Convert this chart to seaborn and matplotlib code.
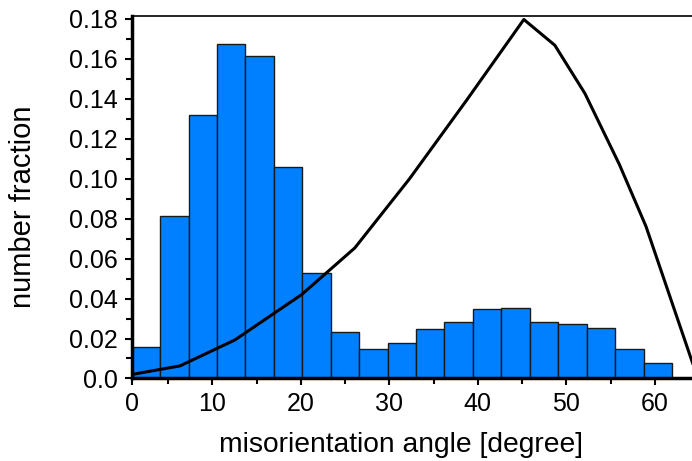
import numpy as np
import pandas as pd
import matplotlib
matplotlib.use("Agg")
import matplotlib.pyplot as plt
from matplotlib.ticker import FixedLocator, FixedFormatter, MultipleLocator
import seaborn as sns

# ---- data ----
bin_start = 0.89
bin_width = 3.213
bar_values = [0.0158, 0.0814, 0.1318, 0.1671, 0.1612, 0.1060, 0.0529, 0.0232,
              0.0146, 0.0176, 0.0246, 0.0281, 0.0346, 0.0351, 0.0281, 0.0274,
              0.0254, 0.0148, 0.0076]
line_x = [0.9, 6.35, 12.56, 20.1, 26.1, 32.3, 38.7, 45.2, 48.7, 52.1, 56.0, 59.0, 64.4]
line_y = [0.002, 0.0063, 0.0193, 0.042, 0.0653, 0.100, 0.139, 0.1796, 0.1667,
          0.1426, 0.107, 0.0761, 0.006]
xtick_vals = [10, 20, 30, 40, 50, 60]
xtick_labels = ["0", "10", "20", "30", "40", "50", "60"]
ytick_vals = [0.0, 0.02, 0.04, 0.06, 0.08, 0.10, 0.12, 0.14, 0.16, 0.18]
ytick_labels = ["0.0", "0.02", "0.04", "0.06", "0.08", "0.10", "0.12", "0.14", "0.16", "0.18"]

sns.set_style("ticks")
plt.rcParams['font.family'] = ['Liberation Sans', 'DejaVu Sans']
plt.rcParams['text.color'] = 'black'
plt.rcParams['axes.labelcolor'] = 'black'
plt.rcParams['xtick.color'] = 'black'
plt.rcParams['ytick.color'] = 'black'

n_bins = len(bar_values)
bin_end = bin_start + bin_width * n_bins
centers = bin_start + bin_width * (np.arange(n_bins) + 0.5)
df = pd.DataFrame({"angle": centers, "frac": bar_values})

fig = plt.figure(figsize=(6.92, 4.61), dpi=100)
ax = fig.add_axes([0.1903, 0.179, 1.0 - 0.1903, 0.966 - 0.179])

sns.histplot(data=df, x="angle", weights="frac", bins=n_bins,
             binrange=(bin_start, bin_end), stat="count",
             color="#0080FF", alpha=1.0, edgecolor="#1a1a1a", linewidth=1.0, ax=ax)
sns.lineplot(x=line_x, y=line_y, color="black", linewidth=2.2, ax=ax, zorder=5,
             estimator=None, sort=False)

ax.set_xlim(bin_start, 64.2)
ax.set_ylim(0, 0.1815)

ax.xaxis.set_major_locator(FixedLocator([bin_start] + xtick_vals))
ax.xaxis.set_major_formatter(FixedFormatter(xtick_labels))
ax.xaxis.set_minor_locator(FixedLocator([5, 15, 25, 35, 45, 55]))
ax.yaxis.set_major_locator(FixedLocator(ytick_vals))
ax.yaxis.set_major_formatter(FixedFormatter(ytick_labels))
ax.yaxis.set_minor_locator(MultipleLocator(0.01))

ax.tick_params(axis="both", which="major", direction="out", length=5, width=1.5,
               labelsize=18, pad=5, colors="black", labelcolor="black")
ax.tick_params(axis="both", which="minor", direction="out", length=4, width=1.5)

ax.set_xlabel("misorientation angle [degree]", fontsize=20.3, color="black", va="center")
ax.set_ylabel("number fraction", fontsize=21, color="black", va="center")
ax.xaxis.set_label_coords(0.4804, -0.1833)
ax.yaxis.set_label_coords(-0.1945, 0.474)

for s in ["left", "bottom"]:
    ax.spines[s].set_linewidth(2.5)
    ax.spines[s].set_color("black")
ax.spines["top"].set_visible(True)
ax.spines["top"].set_linewidth(1.2)
ax.spines["top"].set_color("black")
ax.spines["right"].set_visible(False)

fig.savefig("out.png", dpi=100)
